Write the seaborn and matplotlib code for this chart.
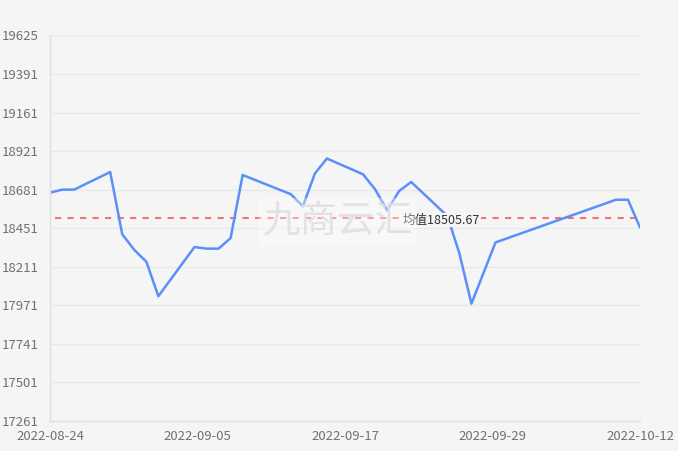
import matplotlib
matplotlib.use("Agg")
import matplotlib.pyplot as plt
import matplotlib.dates as mdates
import seaborn as sns
import pandas as pd
import numpy as np

# ---- data ----
dates = ["2022-08-24", "2022-08-25", "2022-08-26", "2022-08-29", "2022-08-30",
         "2022-08-31", "2022-09-01", "2022-09-02", "2022-09-05", "2022-09-06",
         "2022-09-07", "2022-09-08", "2022-09-09", "2022-09-13", "2022-09-14",
         "2022-09-15", "2022-09-16", "2022-09-19", "2022-09-20", "2022-09-21",
         "2022-09-22", "2022-09-23", "2022-09-26", "2022-09-27", "2022-09-28",
         "2022-09-29", "2022-09-30", "2022-10-10", "2022-10-11", "2022-10-12"]
prices = [18660, 18679, 18679, 18787, 18405,
          18309, 18237, 18025, 18327, 18317,
          18317, 18382, 18769, 18651, 18577,
          18778, 18870, 18773, 18681, 18552,
          18671, 18726, 18517, 18288, 17979,
          18167, 18355, 18617, 18617, 18447]
avg_value = 18505.67
avg_label = "均值18505.67"
y_tick_labels = ["17261", "17501", "17741", "17971", "18211", "18451",
                 "18681", "18921", "19161", "19391", "19625"]
x_tick_labels = ["2022-08-24", "2022-09-05", "2022-09-17", "2022-09-29", "2022-10-12"]
watermark = "九商云汇"

df = pd.DataFrame({"date": pd.to_datetime(dates), "price": prices})

BG = "#f5f5f5"
GRID = "#e9e9e9"
AXIS = "#e0e0e0"
TXT = "#6e7079"

sns.set_style("white")
plt.rcParams["font.family"] = ["Noto Sans CJK SC", "DejaVu Sans"]

fig = plt.figure(figsize=(6.78, 4.51), dpi=100, facecolor=BG)
ax = fig.add_axes([50 / 678, 1 - 420.7 / 451, 590 / 678, (420.7 - 35.5) / 451])
ax.set_facecolor(BG)

sns.lineplot(data=df, x="date", y="price", ax=ax, color="#5B8FF9", linewidth=1.8)

ymin, ymax = float(y_tick_labels[0]), float(y_tick_labels[-1])
ax.set_ylim(ymin, ymax)
yt = np.linspace(ymin, ymax, len(y_tick_labels))
ax.set_yticks(yt)
ax.set_yticklabels(y_tick_labels)

x0 = mdates.date2num(pd.Timestamp(x_tick_labels[0]))
x1 = mdates.date2num(pd.Timestamp(x_tick_labels[-1]))
ax.set_xlim(x0, x1)
xt = np.linspace(x0, x1, len(x_tick_labels))
ax.set_xticks(xt)
ax.set_xticklabels(x_tick_labels)

ax.set_xlabel("")
ax.set_ylabel("")

ax.grid(axis="y", color=GRID, linewidth=1.0)
ax.grid(axis="x", visible=False)
ax.set_axisbelow(True)
for s in ["top", "right"]:
    ax.spines[s].set_visible(False)
for s in ["left", "bottom"]:
    ax.spines[s].set_color(AXIS)
    ax.spines[s].set_linewidth(1.0)

ax.tick_params(axis="both", colors=AXIS, labelcolor=TXT, labelsize=9.5,
               length=4, width=1.0)
ax.tick_params(axis="y", pad=4)
ax.tick_params(axis="x", pad=3)

# mean line
ax.axhline(avg_value, xmin=5 / 590, xmax=1.0, color="#F47373", linewidth=1.5,
           linestyle=(0, (3, 3)), zorder=1)
ax.annotate(avg_label, xy=(0.598, avg_value), xycoords=ax.get_yaxis_transform(),
            xytext=(0, -1.5), textcoords="offset points",
            ha="left", va="center", fontsize=9, color="#333333", zorder=4,
            bbox=dict(facecolor=BG, edgecolor="none", pad=0.5))

# watermark
fig.text(0.4985, 0.508, watermark, ha="center", va="center", fontsize=27,
         color="#e0e0e0", alpha=0.9, zorder=10,
         bbox=dict(facecolor="white", edgecolor="none", alpha=0.35,
                   boxstyle="square,pad=0.12"))

fig.savefig("out.png", dpi=100, facecolor=BG)
